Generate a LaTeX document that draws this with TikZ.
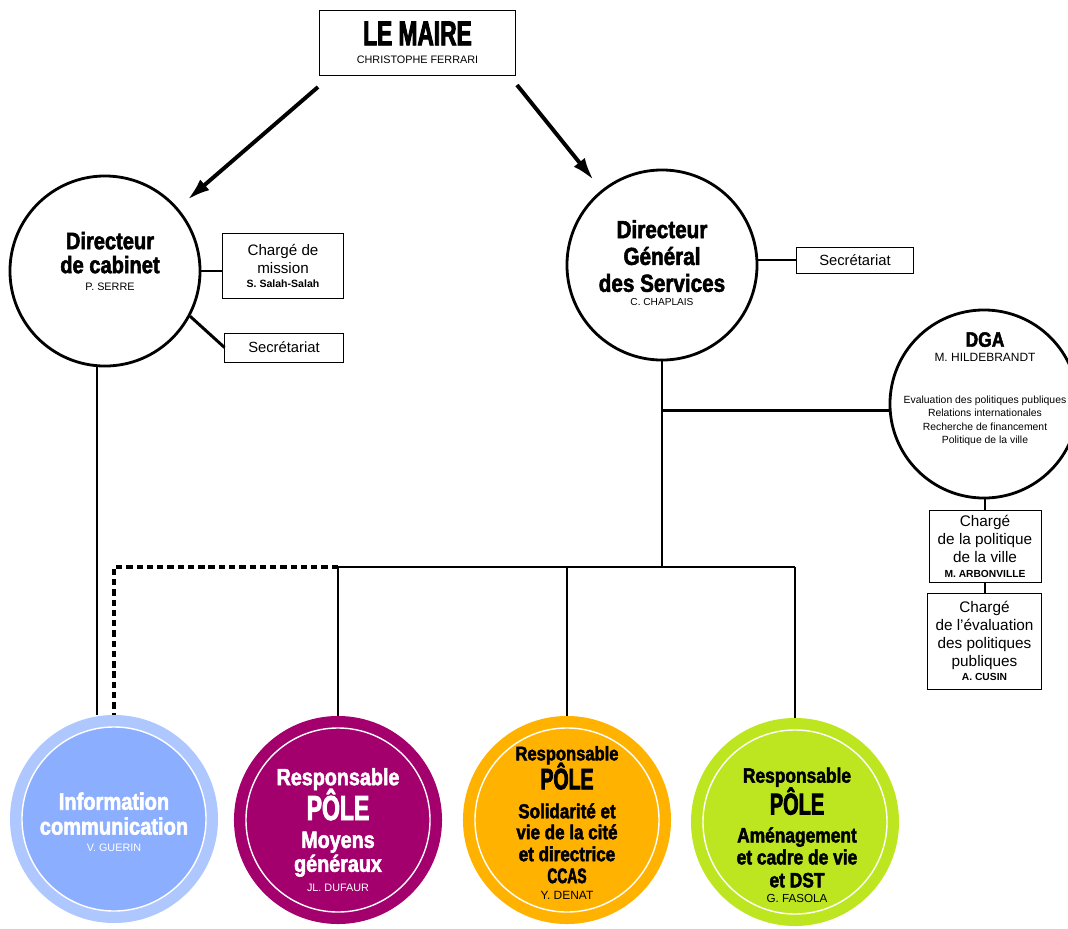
\documentclass[tikz,border=0pt]{standalone}
\usepackage{fontspec}
\setmainfont{Liberation Sans}
\newfontfamily\heavyfont{Liberation Sans}[FakeStretch=0.84,BoldFeatures={FakeBold=2.2}]
\newfontfamily\capsfont{Liberation Sans}[FakeStretch=0.66,BoldFeatures={FakeBold=2.5}]
\usetikzlibrary{
  arrows.meta,
  positioning,
  }
\definecolor{infoblue}{HTML}{8CAEFF}
\definecolor{inforing}{HTML}{AEC8FF}
\definecolor{moypurple}{HTML}{A3006E}
\definecolor{solorange}{HTML}{FFB200}
\definecolor{amggreen}{HTML}{BEE620}
\newcommand\hv[1]{\heavyfont\bfseries\fontsize{#1}{#1}\selectfont}
\newcommand\hc[1]{\capsfont\bfseries\fontsize{#1}{#1}\selectfont}
\newcommand\rg[1]{\normalfont\fontsize{#1}{#1}\selectfont}
\newcommand\nm[1]{\normalfont\bfseries\fontsize{#1}{#1}\selectfont}

\begin{document}
\begin{tikzpicture}[x=0.025cm, y=-0.025cm,
    every node/.style={inner sep=0pt},
    lines/.style={align=center, font={\baselineskip=0pt\lineskiplimit=-100pt\lineskip=0pt}},
    box/.style={draw, line width=0.7pt, fill=white, lines},
    dirc/.style={circle, draw, line width=2pt, fill=white, minimum size=#1},
    pole/.style 2 args={circle, minimum size=5.2cm, fill=#2,
      path picture={\draw[white, line width=1pt, fill=#1] (path picture bounding box.center) circle (2.3cm);}},
    poletext/.style={lines, text=#1},
    arrow/.style={line width=2.8pt, -{Latex[length=16pt,width=10pt]}, shorten >=0.32cm},
    link/.style={line width=2.1pt},
    thinlink/.style={line width=1.5pt},
    dashlink/.style={line width=2.2pt, dash pattern=on 4.5pt off 2.8pt},
  ]
  \useasboundingbox (0,0) rectangle (1068,929);
  \clip (0,0) rectangle (1068,929);

  \node[box, minimum width=4.875cm, minimum height=1.625cm] (maire) at (417.5,42.5)
    {{\hc{24.5}LE MAIRE}\\[12.8pt]{\rg{7.7}CHRISTOPHE FERRARI}};

  \node[dirc=4.75cm] (dc) at (105,271) {};
  \node[lines] (dctxt) at (110,261)
    {{\hv{17}Directeur}\\[17pt]{\hv{17}de cabinet}\\[12pt]{\rg{7.7}P. SERRE}};
  \node[box, minimum width=3.025cm, minimum height=1.625cm] (mission) at (283,265.5)
    {{\rg{10.8}Chargé de}\\[12.8pt]{\rg{10.8}mission}\\[9.9pt]{\nm{7.5}S. Salah-Salah}};
  \node[box, minimum width=2.95cm, minimum height=0.725cm] (sec1) at (284,347.5)
    {{\rg{10.5}Secrétariat}};

  \node[dirc=4.75cm] (dgs) at (662,265) {};
  \node[lines] (dgstxt) at (662,263)
    {{\hv{17.5}Directeur}\\[19.1pt]{\hv{17.5}Général}\\[19.1pt]{\hv{17.5}des Services}\\[9.9pt]{\rg{7.2}C. CHAPLAIS}};
  \node[box, minimum width=2.9cm, minimum height=0.65cm] (sec2) at (855,260)
    {{\rg{10.5}Secrétariat}};

  \node[dirc=4.7cm] (dga) at (984,404) {};
  \node[lines] (dgatxt) at (985,389)
    {{\hv{14.8}DGA}\\[10.6pt]{\rg{8.5}M. HILDEBRANDT}\\[29.8pt]{\rg{7.4}Evaluation des politiques publiques}\\[9.5pt]{\rg{7.4}Relations internationales}\\[9.5pt]{\rg{7.4}Recherche de financement}\\[9.5pt]{\rg{7.4}Politique de la ville}};
  \node[box, minimum width=2.8cm, minimum height=1.8cm] (cpv) at (985,546)
    {{\rg{10.9}Chargé}\\[12.8pt]{\rg{10.9}de la politique}\\[12.8pt]{\rg{10.9}de la ville}\\[10.6pt]{\nm{7.3}M. ARBONVILLE}};
  \node[box, minimum width=2.85cm, minimum height=2.4cm] (cev) at (984.5,641)
    {{\rg{10.9}Chargé}\\[12.9pt]{\rg{10.9}de l'évaluation}\\[12.9pt]{\rg{10.9}des politiques}\\[12.9pt]{\rg{10.9}publiques}\\[9.9pt]{\nm{7.3}A. CUSIN}};

  \node[pole={infoblue}{inforing}] (info) at (114,819) {};
  \node[poletext=white] (infotxt) at (114,822)
    {{\hv{17}Information}\\[17.7pt]{\hv{17}communication}\\[12pt]{\rg{7.7}V. GUERIN}};
  \node[pole={moypurple}{moypurple}] (moy) at (338,820) {};
  \node[poletext=white] (moytxt) at (338,830)
    {{\hv{16.7}Responsable}\\[24.8pt]{\hc{24.7}PÔLE}\\[19.8pt]{\hv{16.7}Moyens}\\[17pt]{\hv{16.7}généraux}\\[14.2pt]{\rg{7.7}JL. DUFAUR}};
  \node[pole={solorange}{solorange}] (sol) at (567,820) {};
  \node[poletext=black] (soltxt) at (567,823)
    {{\hv{14}Responsable}\\[20.6pt]{\hc{21}PÔLE}\\[20.6pt]{\hv{14.4}Solidarité et}\\[14.9pt]{\hv{14.4}vie de la cité}\\[15.6pt]{\hv{14.4}et directrice}\\[15.6pt]{\hc{14.9}CCAS}\\[12pt]{\rg{8.5}Y. DENAT}};
  \node[pole={amggreen}{amggreen}] (amg) at (795,822) {};
  \node[poletext=black] (amgtxt) at (797,835)
    {{\hv{14.7}Responsable}\\[22.7pt]{\hc{21.5}PÔLE}\\[19.8pt]{\hv{14.7}Aménagement}\\[15.6pt]{\hv{14.7}et cadre de vie}\\[16.3pt]{\hv{14.7}et DST}\\[10.6pt]{\rg{8.3}G. FASOLA}};

  \coordinate (mL) at (318,87);
  \coordinate (mR) at (517,85);
  \coordinate (bus) at (662,567);

  \draw[arrow] (mL) -- (dc);
  \draw[arrow] (mR) -- (dgs);
  \draw[link] (dc.east) -- (dc.east -| mission.west);
  \draw[link] (dc.-28) -- (sec1.west);
  \draw[link] ([xshift=-0.2cm]dc.south) -- ([xshift=-0.2cm]dc.south |- info.north);
  \draw[link] (sec2.west -| dgs.east) -- (sec2.west);
  \draw[thinlink] (dgs.south) -- (bus);
  \draw[link] (dgs.south |- dga.184) -- (dga.184);
  \draw[link] (cpv.north |- dga.south) -- (cpv.north);
  \draw[link] (cpv.south) -- (cpv.south |- cev.north);
  \draw[thinlink] (moy.north |- bus) -- (amg.north |- bus);
  \draw[thinlink] (moy.north |- bus) -- (moy.north);
  \draw[thinlink] (sol.north |- bus) -- (sol.north);
  \draw[thinlink] (amg.north |- bus) -- (amg.north);
  \draw[dashlink] (moy.north |- bus) -| (info.north);
\end{tikzpicture}
\end{document}
